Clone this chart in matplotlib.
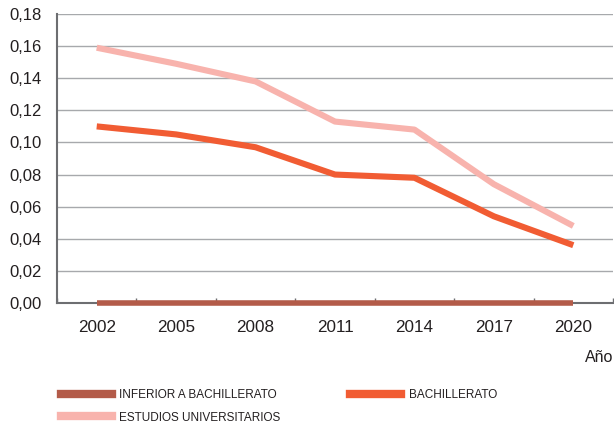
import matplotlib.pyplot as plt
from matplotlib.lines import Line2D

years = ["2002", "2005", "2008", "2011", "2014", "2017", "2020"]
inferior = [0.0, 0.0, 0.0, 0.0, 0.0, 0.0, 0.0]
bachillerato = [0.110, 0.105, 0.097, 0.080, 0.078, 0.054, 0.036]
universitarios = [0.159, 0.149, 0.138, 0.113, 0.108, 0.074, 0.048]
y_ticks = [0.00, 0.02, 0.04, 0.06, 0.08, 0.10, 0.12, 0.14, 0.16, 0.18]

c_inf = "#b35b49"
c_bach = "#f15c33"
c_univ = "#f8b3ad"
axis_grey = "#6d6e71"
grid_grey = "#a7a9ac"

plt.rcParams['font.family'] = ['Liberation Sans', 'DejaVu Sans']

fig = plt.figure(figsize=(6.14, 4.23), dpi=100)
ax = fig.add_axes([57 / 614, 1 - 303 / 423, 556 / 614, 289 / 423])

x = list(range(len(years)))
ax.plot(x, universitarios, color=c_univ, lw=4.4, solid_capstyle='butt', zorder=3)
ax.plot(x, bachillerato, color=c_bach, lw=4.4, solid_capstyle='butt', zorder=4)
ax.plot(x, inferior, color=c_inf, lw=4.0, solid_capstyle='butt', zorder=5, clip_on=False)

ax.set_xlim(-0.5, len(years) - 0.5)
ax.set_ylim(0, 0.18)
ax.set_xticks(x)
ax.set_xticklabels(years, fontsize=12.3, color="#231f20")
ax.set_xticks([i - 0.5 for i in range(len(years) + 1)], minor=True)
ax.set_yticks(y_ticks)
ax.set_yticklabels([f"{v:.2f}".replace(".", ",") for v in y_ticks], fontsize=12, color="#231f20")
ax.tick_params(axis='x', which='major', length=0, pad=12)
ax.tick_params(axis='x', which='minor', length=3.5, direction='in', color=axis_grey, width=1)
ax.tick_params(axis='y', length=0, pad=11)

ax.grid(axis='y', color=grid_grey, lw=1)
ax.set_axisbelow(True)
for s in ['top', 'right']:
    ax.spines[s].set_visible(False)
for s in ['left', 'bottom']:
    ax.spines[s].set_color(axis_grey)
    ax.spines[s].set_linewidth(1.5)

fig.text(585 / 614, 1 - 357 / 423, "Año", fontsize=11.5, color="#231f20", va='center', ha='left')

# legend in two columns, filled row by row like the reference
handles = [
    Line2D([], [], color=c_inf, lw=6),
    Line2D([], [], color=c_univ, lw=6),
    Line2D([], [], color=c_bach, lw=6),
]
labels = ["INFERIOR A BACHILLERATO", "ESTUDIOS UNIVERSITARIOS", "BACHILLERATO"]
fig.legend(handles, labels, ncol=2, frameon=False, loc='upper left',
           bbox_to_anchor=(61 / 614, 1 - 389 / 423), borderaxespad=0, borderpad=0,
           handlelength=4.3, handletextpad=0.65, columnspacing=5.9, labelspacing=0.9,
           prop={'size': 8.5}, labelcolor="#231f20")

fig.savefig("out.png", dpi=100)
